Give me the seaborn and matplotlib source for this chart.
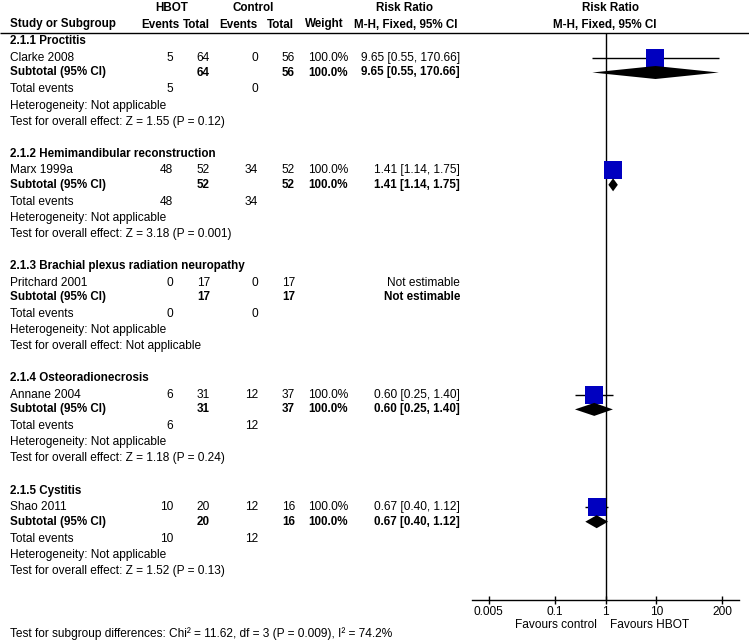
import numpy as np
import pandas as pd
import matplotlib
matplotlib.use('Agg')
import matplotlib.pyplot as plt
import seaborn as sns

# ---------------- data ----------------
subgroups = ['2.1.1 Proctitis', '2.1.2 Hemimandibular reconstruction',
             '2.1.3 Brachial plexus radiation neuropathy', '2.1.4 Osteoradionecrosis',
             '2.1.5 Cystitis']
studies = ['Clarke 2008', 'Marx 1999a', 'Pritchard 2001', 'Annane 2004', 'Shao 2011']
hbot_events = [5, 48, 0, 6, 10]
hbot_total = [64, 52, 17, 31, 20]
ctrl_events = [0, 34, 0, 12, 12]
ctrl_total = [56, 52, 17, 37, 16]
weights = ['100.0%', '100.0%', '', '100.0%', '100.0%']
rr = [9.65, 1.41, np.nan, 0.60, 0.67]
rr_lo = [0.55, 1.14, np.nan, 0.25, 0.40]
rr_hi = [170.66, 1.75, np.nan, 1.40, 1.12]
overall_tests = ['Test for overall effect: Z = 1.55 (P = 0.12)',
                 'Test for overall effect: Z = 3.18 (P = 0.001)',
                 'Test for overall effect: Not applicable',
                 'Test for overall effect: Z = 1.18 (P = 0.24)',
                 'Test for overall effect: Z = 1.52 (P = 0.13)']
heterogeneity = 'Heterogeneity: Not applicable'
subgroup_diff = 'Test for subgroup differences: Chi\u00b2 = 11.62, df = 3 (P = 0.009), I\u00b2 = 74.2%'
tick_values = [0.005, 0.1, 1, 10, 200]
tick_labels = ['0.005', '0.1', '1', '10', '200']

# ---------------- style ----------------
sns.set_theme(style='white')
plt.rcParams['font.family'] = ['Liberation Sans', 'DejaVu Sans']
FS = 8.6      # regular text
FSB = 8.4     # bold text
plt.rcParams['font.size'] = FS

W, H = 749, 640
fig = plt.figure(figsize=(W / 100, H / 100), dpi=100)
fig.patch.set_facecolor('white')
bg = fig.add_axes([0, 0, 1, 1])
bg.set_xlim(0, W)
bg.set_ylim(H, 0)
bg.axis('off')

# layout (pixels)
first_title = 41.5
period = 112.3
offs = [0, 16.5, 31, 48, 64, 80]
AX_L, AX_R, AX_T, AX_B = 472, 739, 33, 600
X_NAME = 10
X_HE, X_HT, X_CE, X_CT, X_W, X_CI = 173, 210, 258, 295, 348, 460

def txt(x, y, s, ha='left', bold=False):
    bg.text(x, y, s, ha=ha, va='center', fontsize=FSB if bold else FS,
            fontweight='bold' if bold else 'normal', color='black')

# headers
txt(172, 8, 'HBOT', ha='center', bold=True)
txt(253, 8, 'Control', ha='center', bold=True)
txt(405, 8, 'Risk Ratio', ha='center', bold=True)
txt(610, 8, 'Risk Ratio', ha='center', bold=True)
y2 = 24.5
txt(X_NAME, y2, 'Study or Subgroup', bold=True)
txt(180, y2, 'Events', ha='right', bold=True)
txt(X_HT, y2, 'Total', ha='right', bold=True)
txt(X_CE, y2, 'Events', ha='right', bold=True)
txt(294, y2, 'Total', ha='right', bold=True)
txt(344, y2, 'Weight', ha='right', bold=True)
txt(457, y2, 'M-H, Fixed, 95% CI', ha='right', bold=True)
txt(605, y2, 'M-H, Fixed, 95% CI', ha='center', bold=True)
bg.plot([0, W], [AX_T, AX_T], color='black', lw=1, solid_capstyle='butt')

study_y, sub_y = [], []
for i, g in enumerate(subgroups):
    yt = first_title + i * period
    ys = [yt + o for o in offs]
    study_y.append(ys[1])
    sub_y.append(ys[2])
    if np.isnan(rr[i]):
        ci = 'Not estimable'
    else:
        ci = f'{rr[i]:.2f} [{rr_lo[i]:.2f}, {rr_hi[i]:.2f}]'
    txt(X_NAME, ys[0], g, bold=True)
    # study row
    txt(X_NAME, ys[1], studies[i])
    txt(X_HE, ys[1], str(hbot_events[i]), ha='right')
    txt(X_HT, ys[1], str(hbot_total[i]), ha='right')
    txt(X_CE, ys[1], str(ctrl_events[i]), ha='right')
    txt(X_CT, ys[1], str(ctrl_total[i]), ha='right')
    txt(X_W, ys[1], weights[i], ha='right')
    txt(X_CI, ys[1], ci, ha='right')
    # subtotal row
    txt(X_NAME, ys[2], 'Subtotal (95% CI)', bold=True)
    txt(X_HT, ys[2], str(hbot_total[i]), ha='right', bold=True)
    txt(X_CT, ys[2], str(ctrl_total[i]), ha='right', bold=True)
    txt(X_W, ys[2], weights[i], ha='right', bold=True)
    txt(X_CI, ys[2], ci, ha='right', bold=True)
    # totals
    txt(X_NAME, ys[3], 'Total events')
    txt(X_HE, ys[3], str(hbot_events[i]), ha='right')
    txt(X_CE, ys[3], str(ctrl_events[i]), ha='right')
    txt(X_NAME, ys[4], heterogeneity)
    txt(X_NAME, ys[5], overall_tests[i])

txt(X_NAME, 634, subgroup_diff)
txt(597, 625, 'Favours control', ha='right')
txt(610, 625, 'Favours HBOT', ha='left')

# ---------------- forest axis ----------------
ax = fig.add_axes([AX_L / W, 1 - AX_B / H, (AX_R - AX_L) / W, (AX_B - AX_T) / H])
ax.patch.set_alpha(0)
ax.set_xscale('log')

df = pd.DataFrame({'rr': rr, 'lo': rr_lo, 'hi': rr_hi, 'y': study_y, 'ys': sub_y}).dropna()
ax.hlines(df['y'], df['lo'], df['hi'], color='black', lw=1, zorder=2)
sns.scatterplot(data=df, x='rr', y='y', marker='s', s=168, color='#0000C0',
                linewidth=0, ax=ax, zorder=3, legend=False)
for _, r in df.iterrows():
    ax.fill([r['lo'], r['rr'], r['hi'], r['rr']],
            [r['ys'], r['ys'] - 6.5, r['ys'], r['ys'] + 6.5],
            color='black', lw=0, zorder=3)
ax.axvline(1, color='black', lw=1, zorder=1)

half = 2.63
ax.set_xlim(10 ** -half, 10 ** half)
ax.set_ylim(AX_B, AX_T)
ax.set_xlabel('')
ax.set_ylabel('')
ax.set_yticks([])
ax.set_xticks(tick_values)
ax.set_xticklabels(tick_labels)
ax.xaxis.set_minor_locator(matplotlib.ticker.NullLocator())
ax.tick_params(axis='x', direction='inout', length=6, width=1, color='black',
               labelsize=FS, pad=1, labelcolor='black', bottom=True)
for s in ['left', 'right', 'top']:
    ax.spines[s].set_visible(False)
ax.spines['bottom'].set_color('black')
ax.spines['bottom'].set_linewidth(1)

fig.savefig('out.png', dpi=100, facecolor='white')
